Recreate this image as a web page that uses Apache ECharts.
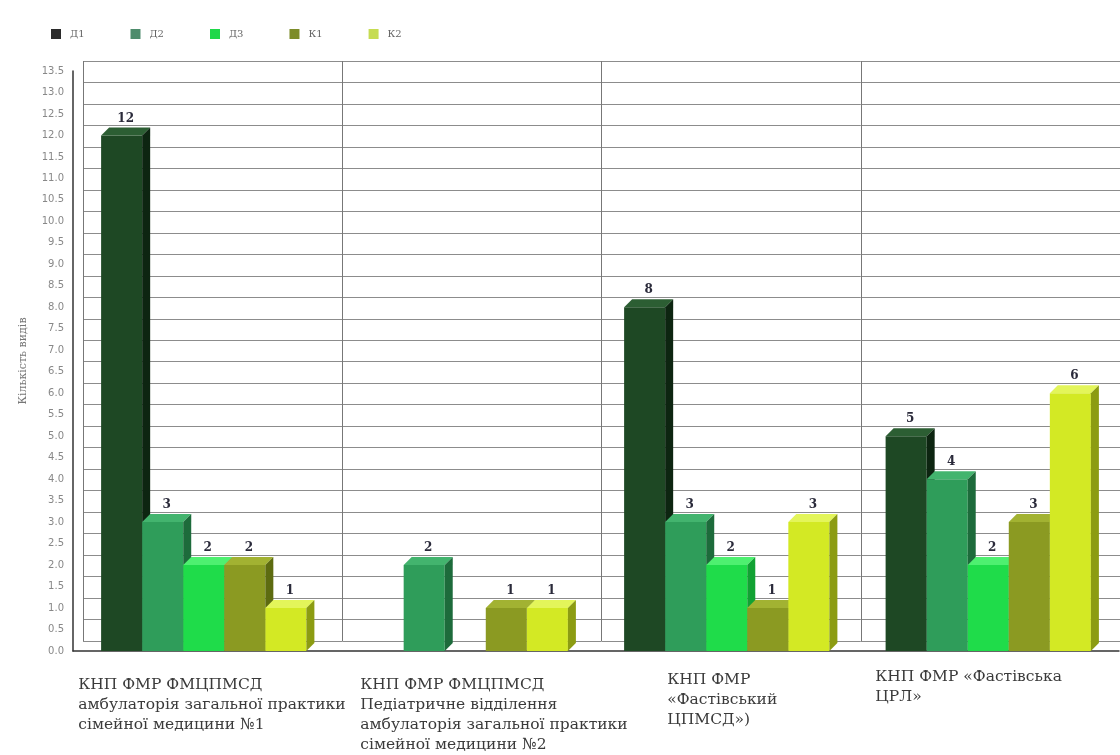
<!DOCTYPE html>
<html><head><meta charset="utf-8">
<script src="https://cdn.jsdelivr.net/npm/echarts@6/dist/echarts.min.js"></script>
<style>html,body{margin:0;padding:0;background:#fff}#c{width:1120px;height:755px}</style>
</head><body><div id="c"></div>
<script>
const categories = [
  "КНП ФМР ФМЦПМСД\nамбулаторія загальної практики\nсімейної медицини №1",
  "КНП ФМР ФМЦПМСД\nПедіатричне відділення\nамбулаторія загальної практики\nсімейної медицини №2",
  "КНП ФМР\n«Фастівський\nЦПМСД»)",
  "КНП ФМР «Фастівська\nЦРЛ»"
];
const seriesNames = ["Д1", "Д2", "Д3", "К1", "К2"];
const valuesD1 = [12, 0, 8, 5];
const valuesD2 = [3, 2, 3, 4];
const valuesD3 = [2, 0, 2, 2];
const valuesK1 = [2, 1, 1, 3];
const valuesK2 = [1, 1, 3, 6];
const yAxisName = "Кількість видів";

const allValues = [valuesD1, valuesD2, valuesD3, valuesK1, valuesK2];
const palette = [
  {front: '#1e4824', top: '#2c5e33', side: '#0d2511', legend: '#2b2b2b'},
  {front: '#2f9d5a', top: '#43b46e', side: '#1d6b3b', legend: '#4e8c6c'},
  {front: '#1fdc4a', top: '#4ef070', side: '#11a233', legend: '#1fd84a'},
  {front: '#8b9a22', top: '#a2b232', side: '#5d6b10', legend: '#7d8c2a'},
  {front: '#d3e924', top: '#e3f55a', side: '#8c9c12', legend: '#c6dc52'}
];
const labelWidths = [251, 210, 119, 226];
const labelTopPads = [8, 8, 3, 0];

const DX = 8, DY = 8;

function makeRender(si) {
  return function (params, api) {
    const cat = api.value(0), v = api.value(1);
    if (!v) return {type: 'group', children: []};
    const base = api.coord([cat, 0]);
    const top = api.coord([cat, v]);
    const catW = api.size([1, 0])[0];
    const bw = catW * 0.157;
    const x0 = base[0] - 2.5 * bw + si * bw;
    const yB = base[1], yT = top[1];
    const c = palette[si];
    return {
      type: 'group',
      children: [
        {type: 'rect', shape: {x: x0, y: yT, width: bw, height: yB - yT},
          style: {fill: c.front}},
        {type: 'polygon', shape: {points: [[x0, yT], [x0 + DX, yT - DY], [x0 + bw + DX, yT - DY], [x0 + bw, yT]]},
          style: {fill: c.top}},
        {type: 'polygon', shape: {points: [[x0 + bw, yT], [x0 + bw + DX, yT - DY], [x0 + bw + DX, yB - DY], [x0 + bw, yB]]},
          style: {fill: c.side}},
        {type: 'text', x: x0 + bw / 2 + DX / 2, y: yT - DY - 3,
          style: {text: String(v), align: 'center', verticalAlign: 'bottom',
            font: 'bold 12px "DejaVu Serif"', fill: '#2a2a3a'}}
      ]
    };
  };
}

const rich = {};
labelWidths.forEach((w, i) => {
  rich['g' + i] = {width: w, align: 'left', fontFamily: 'DejaVu Serif', fontSize: 15.5, color: '#3a3a3a', lineHeight: 20};
});

const chart = echarts.init(document.getElementById('c'));
chart.setOption({
  animation: false,
  backgroundColor: '#fff',
  legend: {
    left: 46, top: 24, itemWidth: 10, itemHeight: 10, itemGap: 46, icon: 'rect',
    textStyle: {fontSize: 10, color: '#666', fontFamily: 'DejaVu Serif', padding: [0, 0, 0, 4]},
    data: seriesNames.map((n, i) => ({name: n, itemStyle: {color: palette[i].legend}}))
  },
  grid: [
    {left: 83, width: 1046, top: 61, height: 580},
    {left: 73, width: 1046, top: 71, height: 580}
  ],
  xAxis: [
    {
      type: 'category', data: categories, gridIndex: 0,
      axisLine: {show: false}, axisTick: {show: false}, axisLabel: {show: false},
      splitLine: {show: true, lineStyle: {color: '#777', width: 1}}
    },
    {
      type: 'category', gridIndex: 1,
      data: categories.map((c, i) => ({value: c, textStyle: {padding: [labelTopPads[i], 0, 0, 0]}})),
      axisLine: {show: true, onZero: false, lineStyle: {color: '#333', width: 1.5}},
      axisTick: {show: false},
      splitLine: {show: false},
      axisLabel: {
        interval: 0, margin: 16, align: 'center', verticalAlign: 'top',
        formatter: (val, idx) => val.split('\n').map(l => '{g' + idx + '|' + l + '}').join('\n'),
        rich: rich
      }
    }
  ],
  yAxis: [
    {
      type: 'value', min: 0, max: 13.5, interval: 0.5, gridIndex: 0,
      axisLine: {show: false}, axisTick: {show: false}, axisLabel: {show: false},
      splitLine: {show: true, lineStyle: {color: '#8c8c8c', width: 1}}
    },
    {
      type: 'value', min: 0, max: 13.5, interval: 0.5, gridIndex: 1,
      name: yAxisName, nameLocation: 'middle', nameGap: 44,
      nameTextStyle: {fontSize: 11, color: '#777', fontFamily: 'DejaVu Serif'},
      axisLine: {show: true, lineStyle: {color: '#333', width: 1.5}},
      axisTick: {show: false},
      splitLine: {show: false},
      axisLabel: {formatter: v => v.toFixed(1), fontSize: 10, color: '#888', fontFamily: 'DejaVu Sans', margin: 9}
    }
  ],
  series: seriesNames.map((n, si) => ({
    name: n, type: 'custom', clip: false,
    xAxisIndex: 1, yAxisIndex: 1,
    itemStyle: {color: palette[si].legend},
    encode: {x: 0, y: 1},
    data: allValues[si].map((v, ci) => [ci, v]),
    renderItem: makeRender(si)
  }))
});
</script></body></html>
